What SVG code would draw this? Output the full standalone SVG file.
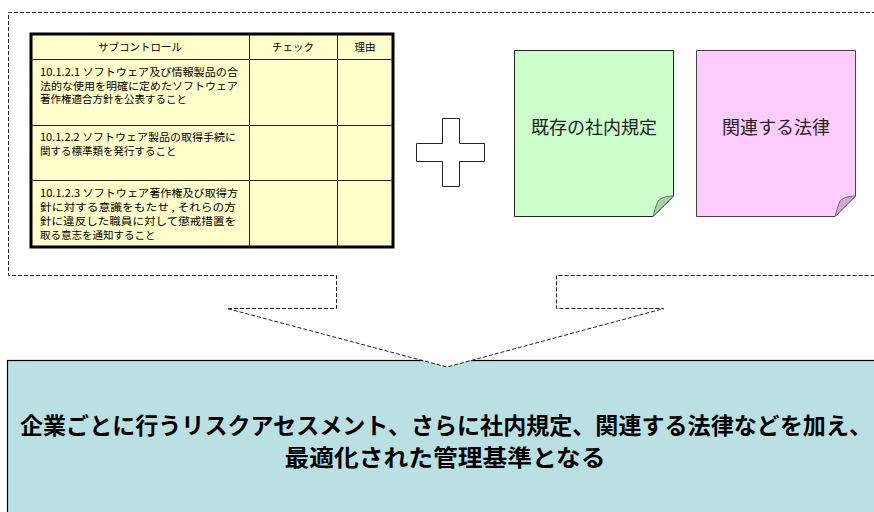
<svg xmlns="http://www.w3.org/2000/svg" width="874" height="512" viewBox="0 0 874 512">
<style>
text{font-family:"Noto Sans CJK JP","Noto Sans",sans-serif;fill:#000}
.cell{font-size:10.5px}
.hd{font-size:10.5px;text-anchor:middle}
.note{font-size:18px;text-anchor:middle;fill:#222}
.big{font-size:23px;font-weight:bold;text-anchor:middle}
.dash{fill:#fff;stroke:#222;stroke-width:1;stroke-dasharray:4 2}
.inner{stroke:#222;stroke-width:1;fill:none}
</style>
<g id="result">
<rect x="7.5" y="360.5" width="900" height="170" fill="#BBE0E3" stroke="#000" stroke-width="1.2"/>
<text class="big" x="446" y="434" textLength="852" lengthAdjust="spacingAndGlyphs">企業ごとに行うリスクアセスメント、さらに社内規定、関連する法律などを加え、</text>
<text class="big" x="445" y="466" textLength="321" lengthAdjust="spacingAndGlyphs">最適化された管理基準となる</text>
</g>
<g id="connectors">
<path class="dash" d="M900,12.5 H8.5 V275.5 H336.5 V308.5 H227 L447,367 L664,308.5 H556.5 V275.5 H900"/>
</g>
<g id="table">
<rect x="31" y="34" width="362" height="213" fill="#FFFFCC" stroke="#000" stroke-width="3"/>
<line class="inner" x1="31" y1="59.5" x2="393" y2="59.5"/>
<line class="inner" x1="31" y1="125.5" x2="393" y2="125.5"/>
<line class="inner" x1="31" y1="180.5" x2="393" y2="180.5"/>
<line class="inner" x1="249.5" y1="34" x2="249.5" y2="247"/>
<line class="inner" x1="337.5" y1="34" x2="337.5" y2="247"/>
<text class="hd" x="140" y="51">サブコントロール</text>
<text class="hd" x="293" y="51">チェック</text>
<text class="hd" x="365" y="51">理由</text>
<text class="cell" x="40" y="76" textLength="198" lengthAdjust="spacingAndGlyphs">10.1.2.1 ソフトウェア及び情報製品の合</text>
<text class="cell" x="40" y="89.5" textLength="198" lengthAdjust="spacingAndGlyphs">法的な使用を明確に定めたソフトウェア</text>
<text class="cell" x="40" y="103">著作権適合方針を公表すること</text>
<text class="cell" x="40" y="141" textLength="196" lengthAdjust="spacingAndGlyphs">10.1.2.2 ソフトウェア製品の取得手続に</text>
<text class="cell" x="40" y="154.5">関する標準類を発行すること</text>
<text class="cell" x="40" y="197" textLength="198" lengthAdjust="spacingAndGlyphs">10.1.2.3 ソフトウェア著作権及び取得方</text>
<text class="cell" x="40" y="211" textLength="196" lengthAdjust="spacingAndGlyphs">針に対する意識をもたせ , それらの方</text>
<text class="cell" x="40" y="225" textLength="196" lengthAdjust="spacingAndGlyphs">針に違反した職員に対して懲戒措置を</text>
<text class="cell" x="40" y="239">取る意志を通知すること</text>
</g>
<g id="plus">
<path d="M442.5,118.5 H459.5 V143.5 H484.5 V161.5 H459.5 V186.5 H442.5 V161.5 H416.5 V143.5 H442.5 Z" fill="#fff" stroke="#222" stroke-width="1"/>
</g>
<g id="note-rules">
<path d="M514.5,50.5 H673.5 V196 L653,216.5 H514.5 Z" fill="#CCFFCC" stroke="#222" stroke-width="1"/>
<path d="M673.5,196 Q662,196 658,201 Q655,208 653,216.5 Z" fill="#A6D4A6" stroke="#555" stroke-width="0.8"/>
<text class="note" x="594" y="134">既存の社内規定</text>
</g>
<g id="note-law">
<path d="M696.5,50.5 H855.5 V196 L835,216.5 H696.5 Z" fill="#FFCCFF" stroke="#444" stroke-width="1"/>
<path d="M855.5,196 Q844,196 840,201 Q837,208 835,216.5 Z" fill="#D6A8D6" stroke="#555" stroke-width="0.8"/>
<text class="note" x="776" y="134">関連する法律</text>
</g>
</svg>
